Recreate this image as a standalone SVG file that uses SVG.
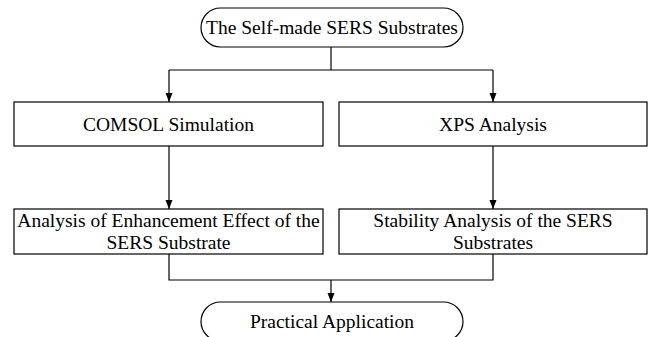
<svg xmlns="http://www.w3.org/2000/svg" width="653" height="337" viewBox="0 0 653 337">
  <style>
    .box { fill: #ffffff; stroke: #000000; stroke-width: 1.2; }
    .conn { fill: none; stroke: #000000; stroke-width: 1.2; }
    .txt { font-family: "Liberation Serif", "Times New Roman", serif; font-size: 19.5px; fill: #000000; text-anchor: middle; }
  </style>
  <defs>
    <marker id="arrow" markerUnits="userSpaceOnUse" markerWidth="9" markerHeight="8" refX="9" refY="4" orient="auto">
      <path d="M0,0.5 L9,4 L0,7.5 z" fill="#000000"/>
    </marker>
  </defs>
  <rect width="653" height="337" fill="#ffffff"/>

  <g id="connectors">
    <line class="conn" x1="331" y1="47" x2="331" y2="70"/>
    <line class="conn" x1="169" y1="70" x2="493" y2="70"/>
    <line class="conn" x1="169" y1="70" x2="169" y2="102" marker-end="url(#arrow)"/>
    <line class="conn" x1="493" y1="70" x2="493" y2="102" marker-end="url(#arrow)"/>
    <line class="conn" x1="169" y1="146" x2="169" y2="209" marker-end="url(#arrow)"/>
    <line class="conn" x1="493" y1="146" x2="493" y2="209" marker-end="url(#arrow)"/>
    <polyline class="conn" points="169,254 169,280 493,280 493,254"/>
    <line class="conn" x1="331" y1="280" x2="331" y2="302" marker-end="url(#arrow)"/>
  </g>

  <g id="start">
    <rect class="box" x="201" y="8" width="262" height="39" rx="19.5" ry="19.5"/>
    <text class="txt" x="332" y="34">The Self-made SERS Substrates</text>
  </g>

  <g id="comsol">
    <rect class="box" x="14" y="102" width="309" height="44"/>
    <text class="txt" x="168.5" y="131">COMSOL Simulation</text>
  </g>

  <g id="xps">
    <rect class="box" x="339" y="102" width="308" height="44"/>
    <text class="txt" x="493" y="131">XPS Analysis</text>
  </g>

  <g id="enhancement">
    <rect class="box" x="14" y="209" width="309" height="45"/>
    <text class="txt" x="168.5" y="227">Analysis of Enhancement Effect of the</text>
    <text class="txt" x="168.5" y="249">SERS Substrate</text>
  </g>

  <g id="stability">
    <rect class="box" x="339" y="209" width="308" height="45"/>
    <text class="txt" x="493" y="227">Stability Analysis of the SERS</text>
    <text class="txt" x="493" y="249">Substrates</text>
  </g>

  <g id="application">
    <rect class="box" x="201" y="302" width="262" height="39" rx="19.5" ry="19.5"/>
    <text class="txt" x="332" y="328">Practical Application</text>
  </g>
</svg>
